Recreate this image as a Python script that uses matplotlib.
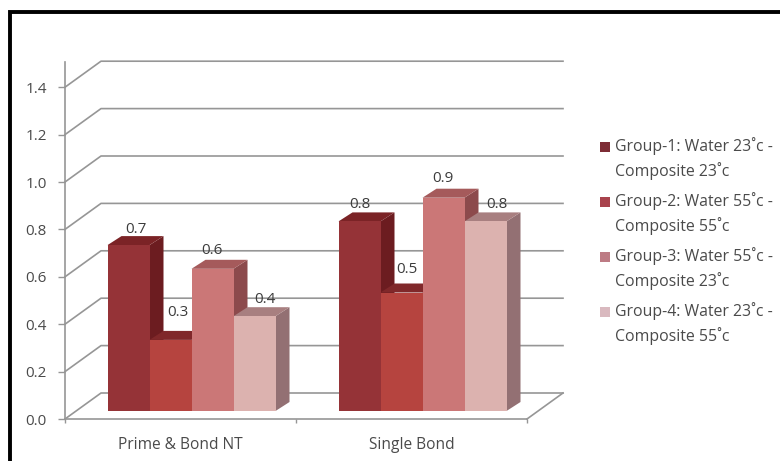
import matplotlib
matplotlib.use("Agg")
import matplotlib.pyplot as plt
from matplotlib.patches import Polygon, Rectangle

categories = ["Prime & Bond NT", "Single Bond"]
group_labels = [
    "Group-1: Water 23˚c -\nComposite 23˚c",
    "Group-2: Water 55˚c -\nComposite 55˚c",
    "Group-3: Water 55˚c -\nComposite 23˚c",
    "Group-4: Water 23˚c -\nComposite 55˚c",
]
prime_bond = [0.7, 0.3, 0.6, 0.4]
single_bond = [0.8, 0.5, 0.9, 0.8]
y_ticks = [0.0, 0.2, 0.4, 0.6, 0.8, 1.0, 1.2, 1.4]

front_colors = ["#953337", "#b6443f", "#cb7777", "#dcb2af"]
top_colors = ["#7b2326", "#80282a", "#a55a5b", "#a87f80"]
side_colors = ["#6c1c20", "#74201f", "#8c4a4c", "#937073"]
legend_colors = ["#7d2c35", "#a8434d", "#bd7b84", "#d9b9bf"]
GRID = "#969696"
TEXT = "#4a4a4a"

W, H = 780, 461
fig = plt.figure(figsize=(W / 100, H / 100), dpi=100, facecolor="white")
plt.rcParams["font.family"] = "Open Sans"

# axes box in pixels: 231 px per category, 237 px per unit of value
ax = fig.add_axes([65 / W, (H - 419) / H, 462 / W, 357 / H])
ax.set_xlim(-0.5, 1.5)
ax.set_ylim(0, 357 / 237)
ax.patch.set_alpha(0)
px_x = 2 / 462
px_y = (357 / 237) / 357

# wall depth and bar depth, as data offsets
wall_dx, wall_dy = 36 * px_x, 26 * px_y
bar_dx, bar_dy = 14 * px_x, 9 * px_y
base_dx, base_dy = 11 * px_x, 8 * px_y
bar_w = 42 * px_x


def add_face(points, color, z=3):
    ax.add_patch(Polygon(points, closed=True, fc=color, ec="none", zorder=z, clip_on=False))


# gridlines on the back and side walls
for v in y_ticks:
    ax.plot([-0.5, -0.5 + wall_dx, 1.5 + wall_dx], [v, v + wall_dy, v + wall_dy],
            color=GRID, lw=1.2, clip_on=False, zorder=1)
ax.plot([1.5, 1.5 + wall_dx], [0, wall_dy], color=GRID, lw=1.2, clip_on=False, zorder=1)

# small nudges so the value labels sit where they do not hit the next bar
label_nudge = [(7, 16), (7, 27), (-1, 18), (10, 17), (0, 17), (5, 23), (-1, 19), (11, 17)]

k = 0
for c, values in enumerate([prime_bond, single_bond]):
    for i, v in enumerate(values):
        x0 = c + base_dx + (i - 2) * bar_w
        x1 = x0 + bar_w
        y0 = base_dy
        y1 = v + base_dy
        add_face([(x1, y0), (x1 + bar_dx, y0 + bar_dy), (x1 + bar_dx, y1 + bar_dy), (x1, y1)], side_colors[i], 3 + i)
        add_face([(x0, y1), (x1, y1), (x1 + bar_dx, y1 + bar_dy), (x0 + bar_dx, y1 + bar_dy)], top_colors[i], 3 + i)
        add_face([(x0, y0), (x1, y0), (x1, y1), (x0, y1)], front_colors[i], 3 + i)
        nx, ny = label_nudge[k]
        ax.annotate(f"{v:.1f}", ((x0 + x1) / 2, y1), xytext=(nx * 0.72, ny * 0.72),
                    textcoords="offset points", ha="center", va="center",
                    fontsize=11, color="#3c3c3c", zorder=10, annotation_clip=False)
        k += 1

for name in ["top", "right"]:
    ax.spines[name].set_visible(False)
for name in ["left", "bottom"]:
    ax.spines[name].set_color(GRID)
    ax.spines[name].set_linewidth(1.2)
    ax.spines[name].set_zorder(2)

ax.set_yticks(y_ticks)
ax.set_yticklabels([f"{v:.1f}" for v in y_ticks], fontsize=11, color=TEXT)
ax.set_xticks([-0.5, 0.5, 1.5])
ax.set_xticklabels([])
ax.set_xticks([0, 1], labels=categories, minor=True)
ax.tick_params(axis="x", which="minor", length=0, pad=13, labelsize=11.2, labelcolor=TEXT)
ax.tick_params(axis="x", which="major", length=3, color=GRID, width=1)
ax.tick_params(axis="y", length=5, color=GRID, width=1, pad=8)

# legend, one swatch and two lines of text per group
for i, label in enumerate(group_labels):
    yc = 147 + i * 55
    fig.add_artist(Rectangle((600 / W, (H - yc - 5) / H), 10 / W, 10 / H, fc=legend_colors[i], ec="none"))
    fig.text(615 / W, (H - yc - 11.5) / H, label, fontsize=11.4, color=TEXT, ha="left", va="center", linespacing=1.5)

# black frame around the chart
fig.add_artist(Rectangle((10 / W, -10 / H), 790 / W, (H - 12 + 10) / H, fc="none", ec="black", lw=2.8))

fig.savefig("out.png", dpi=100)
